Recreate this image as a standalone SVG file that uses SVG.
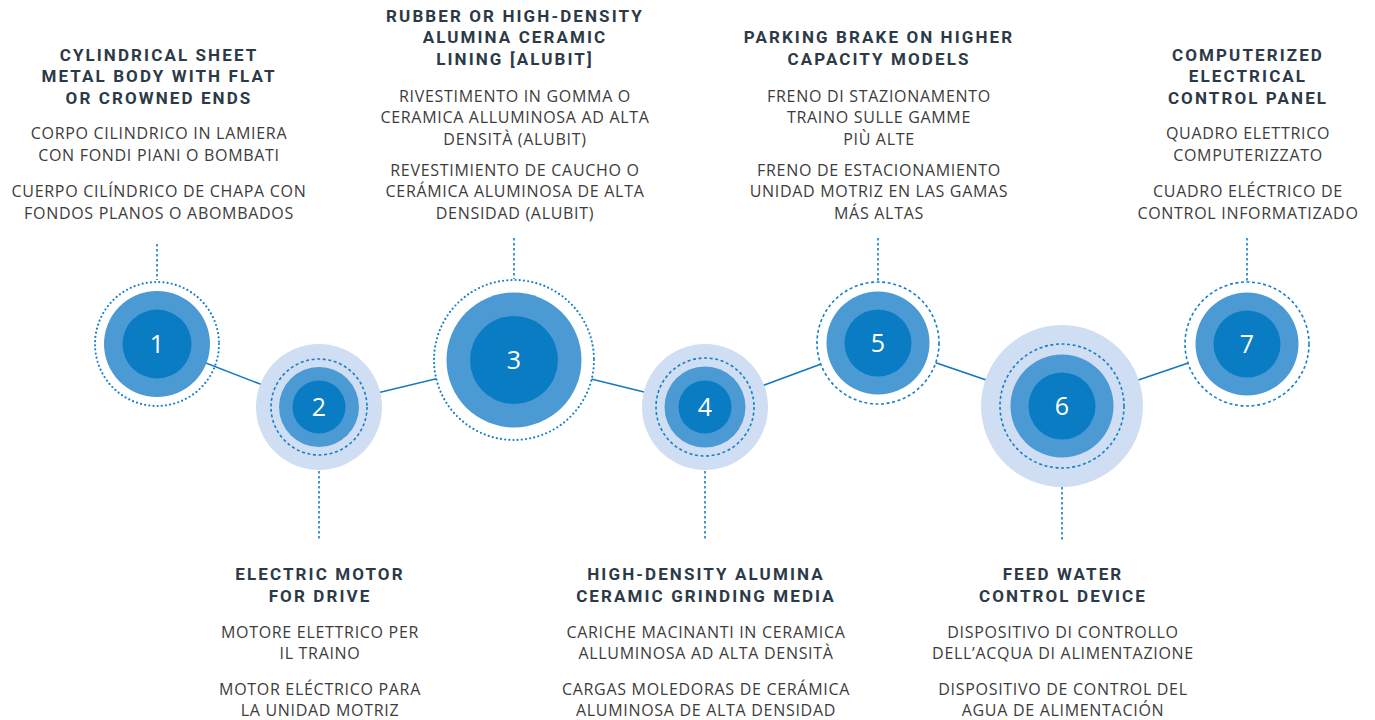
<svg xmlns="http://www.w3.org/2000/svg" width="1375" height="720" viewBox="0 0 1375 720">
<defs>
<style>
.bg{fill:#ffffff}
.light{fill:#cfdef2}
.mid{fill:#4b9ad4}
.core{fill:#0a7cc4}
.dot{fill:none;stroke:#1580c8;stroke-width:2.2;stroke-linecap:round;stroke-dasharray:0 4.2}
.dash{fill:none;stroke:#1580c8;stroke-width:1.6;stroke-dasharray:3 2.6}
.vline{fill:none;stroke:#1580c8;stroke-width:1.6;stroke-dasharray:2.5 2.5}
.link{stroke:#1278c2;stroke-width:1.6;fill:none}
.num{font-family:"Open Sans","Liberation Sans",sans-serif;font-size:25px;fill:#ffffff;text-anchor:middle}
.h{font-family:Roboto,"Liberation Sans",sans-serif;font-weight:700;font-size:17px;letter-spacing:2.1px;fill:#2c3a48;text-anchor:middle}
.b{font-family:"Open Sans","Liberation Sans",sans-serif;font-size:16px;letter-spacing:0.7px;fill:#3c3c3c;text-anchor:middle}
</style>
</defs>
<rect class="bg" x="0" y="0" width="1375" height="720"/>
<g id="connectors">
<line class="link" x1="157" y1="344" x2="319" y2="407"/>
<line class="link" x1="319" y1="407" x2="514" y2="360"/>
<line class="link" x1="514" y1="360" x2="705" y2="407"/>
<line class="link" x1="705" y1="407" x2="878" y2="343"/>
<line class="link" x1="878" y1="343" x2="1062" y2="406"/>
<line class="link" x1="1062" y1="406" x2="1247" y2="343"/>
<line class="vline" x1="157" y1="244" x2="157" y2="280"/>
<line class="vline" x1="514" y1="238" x2="514" y2="279"/>
<line class="vline" x1="878" y1="238" x2="878" y2="281"/>
<line class="vline" x1="1247" y1="238" x2="1247" y2="281"/>
<line class="vline" x1="319" y1="471" x2="319" y2="540"/>
<line class="vline" x1="705" y1="471" x2="705" y2="540"/>
<line class="vline" x1="1062" y1="487" x2="1062" y2="540"/>
</g>
<g id="node1">
<circle class="dot" cx="157" cy="344" r="62"/>
<circle class="mid" cx="157" cy="344" r="53"/>
<circle class="core" cx="157" cy="344" r="34.5"/>
<text class="num" x="157" y="353">1</text>
<text class="h" x="159" y="61">CYLINDRICAL SHEET</text>
<text class="h" x="159" y="82">METAL BODY WITH FLAT</text>
<text class="h" x="159" y="104">OR CROWNED ENDS</text>
<text class="b" x="159" y="139">CORPO CILINDRICO IN LAMIERA</text>
<text class="b" x="159" y="161">CON FONDI PIANI O BOMBATI</text>
<text class="b" x="159" y="197">CUERPO CILÍNDRICO DE CHAPA CON</text>
<text class="b" x="159" y="219">FONDOS PLANOS O ABOMBADOS</text>
</g>
<g id="node2">
<circle class="light" cx="319" cy="407" r="63"/>
<circle class="dash" cx="319" cy="407" r="48"/>
<circle class="mid" cx="319" cy="407" r="40"/>
<circle class="core" cx="319" cy="407" r="26.5"/>
<text class="num" x="319" y="416">2</text>
<text class="h" x="320" y="580">ELECTRIC MOTOR</text>
<text class="h" x="320" y="602">FOR DRIVE</text>
<text class="b" x="320" y="638">MOTORE ELETTRICO PER</text>
<text class="b" x="320" y="659">IL TRAINO</text>
<text class="b" x="320" y="695">MOTOR ELÉCTRICO PARA</text>
<text class="b" x="320" y="716">LA UNIDAD MOTRIZ</text>
</g>
<g id="node3">
<circle class="bg" cx="514" cy="360" r="80"/>
<circle class="dot" cx="514" cy="360" r="80"/>
<circle class="mid" cx="514" cy="360" r="67.5"/>
<circle class="core" cx="514" cy="360" r="44"/>
<text class="num" x="514" y="369">3</text>
<text class="h" x="515" y="22">RUBBER OR HIGH-DENSITY</text>
<text class="h" x="515" y="43">ALUMINA CERAMIC</text>
<text class="h" x="515" y="65">LINING [ALUBIT]</text>
<text class="b" x="515" y="102">RIVESTIMENTO IN GOMMA O</text>
<text class="b" x="515" y="123">CERAMICA ALLUMINOSA AD ALTA</text>
<text class="b" x="515" y="145">DENSITÀ (ALUBIT)</text>
<text class="b" x="515" y="176">REVESTIMIENTO DE CAUCHO O</text>
<text class="b" x="515" y="197">CERÁMICA ALUMINOSA DE ALTA</text>
<text class="b" x="515" y="219">DENSIDAD (ALUBIT)</text>
</g>
<g id="node4">
<circle class="light" cx="705" cy="407" r="63"/>
<circle class="dash" cx="705" cy="407" r="49"/>
<circle class="mid" cx="705" cy="407" r="40.5"/>
<circle class="core" cx="705" cy="407" r="26.5"/>
<text class="num" x="705" y="416">4</text>
<text class="h" x="706" y="580">HIGH-DENSITY ALUMINA</text>
<text class="h" x="706" y="602">CERAMIC GRINDING MEDIA</text>
<text class="b" x="706" y="638">CARICHE MACINANTI IN CERAMICA</text>
<text class="b" x="706" y="659">ALLUMINOSA AD ALTA DENSITÀ</text>
<text class="b" x="706" y="695">CARGAS MOLEDORAS DE CERÁMICA</text>
<text class="b" x="706" y="716">ALUMINOSA DE ALTA DENSIDAD</text>
</g>
<g id="node5">
<circle class="bg" cx="878" cy="343" r="61"/>
<circle class="dash" cx="878" cy="343" r="61"/>
<circle class="mid" cx="878" cy="343" r="51.5"/>
<circle class="core" cx="878" cy="343" r="33.5"/>
<text class="num" x="878" y="352">5</text>
<text class="h" x="879" y="43">PARKING BRAKE ON HIGHER</text>
<text class="h" x="879" y="65">CAPACITY MODELS</text>
<text class="b" x="879" y="102">FRENO DI STAZIONAMENTO</text>
<text class="b" x="879" y="123">TRAINO SULLE GAMME</text>
<text class="b" x="879" y="145">PIÙ ALTE</text>
<text class="b" x="879" y="176">FRENO DE ESTACIONAMIENTO</text>
<text class="b" x="879" y="197">UNIDAD MOTRIZ EN LAS GAMAS</text>
<text class="b" x="879" y="219">MÁS ALTAS</text>
</g>
<g id="node6">
<circle class="light" cx="1062" cy="406" r="81"/>
<circle class="dash" cx="1062" cy="406" r="62"/>
<circle class="mid" cx="1062" cy="406" r="51.5"/>
<circle class="core" cx="1062" cy="406" r="33.5"/>
<text class="num" x="1062" y="415">6</text>
<text class="h" x="1063" y="580">FEED WATER</text>
<text class="h" x="1063" y="602">CONTROL DEVICE</text>
<text class="b" x="1063" y="638">DISPOSITIVO DI CONTROLLO</text>
<text class="b" x="1063" y="659">DELL’ACQUA DI ALIMENTAZIONE</text>
<text class="b" x="1063" y="695">DISPOSITIVO DE CONTROL DEL</text>
<text class="b" x="1063" y="716">AGUA DE ALIMENTACIÓN</text>
</g>
<g id="node7">
<circle class="bg" cx="1247" cy="344" r="62"/>
<circle class="dash" cx="1247" cy="344" r="62"/>
<circle class="mid" cx="1247" cy="344" r="51.5"/>
<circle class="core" cx="1247" cy="344" r="33.5"/>
<text class="num" x="1247" y="353">7</text>
<text class="h" x="1248" y="61">COMPUTERIZED</text>
<text class="h" x="1248" y="82">ELECTRICAL</text>
<text class="h" x="1248" y="104">CONTROL PANEL</text>
<text class="b" x="1248" y="139">QUADRO ELETTRICO</text>
<text class="b" x="1248" y="161">COMPUTERIZZATO</text>
<text class="b" x="1248" y="197">CUADRO ELÉCTRICO DE</text>
<text class="b" x="1248" y="219">CONTROL INFORMATIZADO</text>
</g>
</svg>
